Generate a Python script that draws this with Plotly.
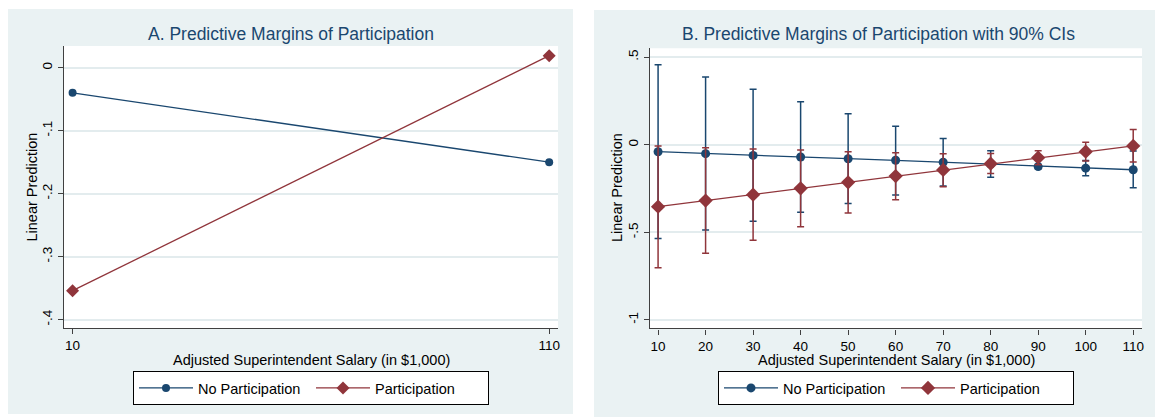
import plotly.graph_objects as go

W, H = 1155, 417

# ---------------- data ----------------
# Panel A
salary_a = [10, 110]
no_part_a = [-0.040, -0.150]
part_a = [-0.354, 0.019]

# Panel B
salary_b = [10, 20, 30, 40, 50, 60, 70, 80, 90, 100, 110]
no_part_b = [-0.040, -0.051, -0.061, -0.070, -0.080, -0.089, -0.100, -0.110, -0.125, -0.134, -0.143]
no_part_lo = [-0.536, -0.487, -0.437, -0.386, -0.336, -0.287, -0.236, -0.186, -0.137, -0.177, -0.245]
no_part_hi = [0.456, 0.386, 0.316, 0.245, 0.177, 0.105, 0.036, -0.035, -0.113, -0.090, -0.036]
part_b = [-0.354, -0.319, -0.285, -0.249, -0.215, -0.179, -0.144, -0.108, -0.074, -0.040, -0.007]
part_lo = [-0.702, -0.620, -0.546, -0.468, -0.390, -0.314, -0.240, -0.165, -0.115, -0.093, -0.099]
part_hi = [-0.008, -0.017, -0.025, -0.030, -0.040, -0.046, -0.051, -0.050, -0.035, 0.014, 0.087]

ytick_a_vals = [0, -0.1, -0.2, -0.3, -0.4]
ytick_a_text = ["0", "-.1", "-.2", "-.3", "-.4"]
ytick_b_vals = [0.5, 0, -0.5, -1]
ytick_b_text = [".5", "0", "-.5", "-1"]
xtick_a_vals = [10, 110]
xtick_b_vals = salary_b

title_a = "A. Predictive Margins of Participation"
title_b = "B. Predictive Margins of Participation with 90% CIs"
x_title = "Adjusted Superintendent Salary (in $1,000)"
y_title = "Linear Prediction"
series_names = ["No Participation", "Participation"]

# ---------------- style ----------------
NAVY = "#1A476F"
MAROON = "#90353B"
BG = "#EAF2F3"
GRID = "#E3ECEE"
AXIS = "#404040"
FONT = "Liberation Sans, Arial, sans-serif"


def px_x(v):
    return v / W


def px_y(v):
    return 1 - v / H


fig = go.Figure()

# Panel A traces
fig.add_trace(go.Scatter(
    x=salary_a, y=no_part_a, mode="lines+markers", name=series_names[0],
    line=dict(color=NAVY, width=1.3), marker=dict(symbol="circle", size=8, color=NAVY),
    xaxis="x", yaxis="y", legend="legend"))
fig.add_trace(go.Scatter(
    x=salary_a, y=part_a, mode="lines+markers", name=series_names[1],
    line=dict(color=MAROON, width=1.3), marker=dict(symbol="diamond", size=10, color=MAROON),
    xaxis="x", yaxis="y", legend="legend"))

# Panel B traces
fig.add_trace(go.Scatter(
    x=salary_b, y=no_part_b, mode="lines+markers", name=series_names[0],
    line=dict(color=NAVY, width=1.3), marker=dict(symbol="circle", size=9, color=NAVY),
    error_y=dict(type="data", symmetric=False,
                 array=[h - c for h, c in zip(no_part_hi, no_part_b)],
                 arrayminus=[c - l for l, c in zip(no_part_lo, no_part_b)],
                 color=NAVY, thickness=1.5, width=3.5),
    xaxis="x2", yaxis="y2", legend="legend2"))
fig.add_trace(go.Scatter(
    x=salary_b, y=part_b, mode="lines+markers", name=series_names[1],
    line=dict(color=MAROON, width=1.3), marker=dict(symbol="diamond", size=11, color=MAROON),
    error_y=dict(type="data", symmetric=False,
                 array=[h - c for h, c in zip(part_hi, part_b)],
                 arrayminus=[c - l for l, c in zip(part_lo, part_b)],
                 color=MAROON, thickness=1.5, width=3.5),
    xaxis="x2", yaxis="y2", legend="legend2"))

# plot-area geometry (pixels)
A_L, A_R, A_T, A_B = 64, 558, 46, 328
B_L, B_R, B_T, B_B = 650, 1142, 48.3, 328.3

axis_common = dict(showline=True, linecolor=AXIS, linewidth=1.4, ticks="outside",
                   ticklen=5, tickwidth=1.2, tickcolor=AXIS, zeroline=False,
                   automargin=False,
                   tickfont=dict(family=FONT, size=13.5, color="black"))

legend_common = dict(orientation="h", xanchor="center", y=px_y(388), yanchor="middle",
                     bordercolor="black", borderwidth=1, bgcolor="white",
                     font=dict(family=FONT, size=14.5, color="black"),
                     itemwidth=54, entrywidth=108, entrywidthmode="pixels")

fig.update_layout(
    template="none",
    width=W, height=H, autosize=False,
    margin=dict(l=0, r=0, t=0, b=0, pad=0, autoexpand=False),
    paper_bgcolor="white", plot_bgcolor="rgba(0,0,0,0)",
    font=dict(family=FONT, color="black"),
    xaxis=dict(domain=[px_x(A_L), px_x(A_R)], anchor="y", range=[8.2, 111.85],
               tickvals=xtick_a_vals, showgrid=False, **axis_common),
    yaxis=dict(domain=[px_y(A_B), px_y(A_T)], anchor="x", range=[-0.4132, 0.0344],
               tickvals=ytick_a_vals, ticktext=ytick_a_text, tickangle=-90,
               showgrid=True, gridcolor=GRID, gridwidth=1.6, **axis_common),
    xaxis2=dict(domain=[px_x(B_L), px_x(B_R)], anchor="y2", range=[8.3, 111.85],
                tickvals=xtick_b_vals, showgrid=False, **axis_common),
    yaxis2=dict(domain=[px_y(B_B), px_y(B_T)], anchor="x2", range=[-1.048, 0.5503],
                tickvals=ytick_b_vals, ticktext=ytick_b_text, tickangle=-90,
                showgrid=True, gridcolor=GRID, gridwidth=1.6, **axis_common),
    legend=dict(x=px_x(311), **legend_common),
    legend2=dict(x=px_x(896), **legend_common),
    showlegend=True,
)

# backgrounds
fig.add_shape(type="rect", xref="paper", yref="paper", x0=px_x(8), x1=px_x(573),
              y0=px_y(414), y1=px_y(9), fillcolor=BG, line=dict(width=0), layer="below")
fig.add_shape(type="rect", xref="paper", yref="paper", x0=px_x(594), x1=1,
              y0=0, y1=px_y(10), fillcolor=BG, line=dict(width=0), layer="below")
fig.add_shape(type="rect", xref="x domain", yref="y domain", x0=0, x1=1, y0=0, y1=1,
              fillcolor="white", line=dict(width=0), layer="below")
fig.add_shape(type="rect", xref="x2 domain", yref="y2 domain", x0=0, x1=1, y0=0, y1=1,
              fillcolor="white", line=dict(width=0), layer="below")

# titles and axis titles
ann = []
ann.append(dict(text=title_a, x=px_x(291), y=px_y(34), xref="paper", yref="paper",
                showarrow=False, xanchor="center", yanchor="middle",
                font=dict(family=FONT, size=17.5, color=NAVY)))
ann.append(dict(text=title_b, x=px_x(878), y=px_y(34), xref="paper", yref="paper",
                showarrow=False, xanchor="center", yanchor="middle",
                font=dict(family=FONT, size=17.5, color=NAVY)))
for cx in (311, 896):
    ann.append(dict(text=x_title, x=px_x(cx), y=px_y(360), xref="paper", yref="paper",
                    showarrow=False, xanchor="center", yanchor="middle",
                    font=dict(family=FONT, size=14.5, color="black")))
for cx, cy in ((31.5, 187), (617, 188)):
    ann.append(dict(text=y_title, x=px_x(cx), y=px_y(cy), xref="paper", yref="paper",
                    showarrow=False, xanchor="center", yanchor="middle", textangle=-90,
                    font=dict(family=FONT, size=14.5, color="black")))
fig.update_layout(annotations=ann)

fig.write_html(
    "out.html",
    config={"displayModeBar": False},
    post_script="document.body.style.margin='0';document.body.style.padding='0';"
                "document.body.style.overflow='hidden';",
)
